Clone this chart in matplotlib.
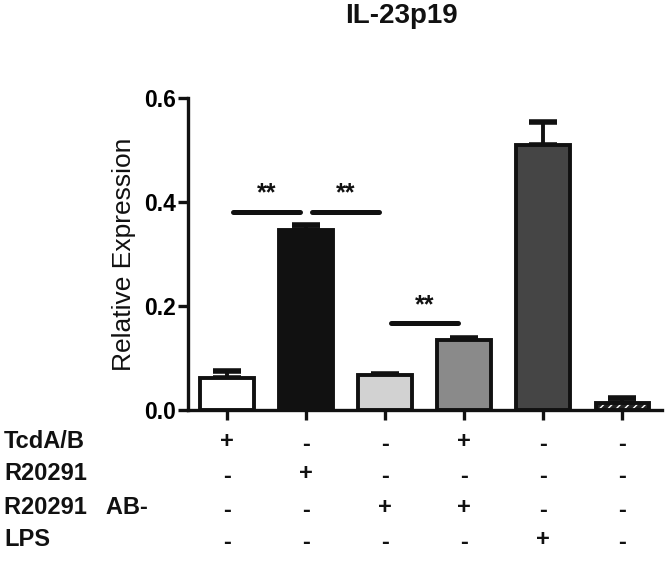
import matplotlib
matplotlib.use("Agg")
import matplotlib.pyplot as plt
import matplotlib.transforms as mtransforms

plt.rcParams['font.family'] = ['Liberation Sans', 'DejaVu Sans']

# Data
groups = ["G1", "G2", "G3", "G4", "G5", "G6"]
values = [0.062, 0.346, 0.067, 0.135, 0.510, 0.013]
errors = [0.013, 0.010, 0.003, 0.003, 0.044, 0.010]
colors = ["#ffffff", "#111111", "#d2d2d2", "#8a8a8a", "#454545", "#222222"]
row_labels = ["TcdA/B", "R20291", "R20291   AB-", "LPS"]
row_signs = [
    ["+", "-", "-", "+", "-", "-"],
    ["-", "+", "-", "-", "-", "-"],
    ["-", "-", "+", "+", "-", "-"],
    ["-", "-", "-", "-", "+", "-"],
]
yticks = [0.0, 0.2, 0.4, 0.6]
ytick_labels = ["0.0", "0.2", "0.4", "0.6"]
sig_pairs = [(0, 1, 0.381), (1, 2, 0.381), (2, 3, 0.167)]
title = "IL-23p19"
ylabel = "Relative Expression"

W, H = 666, 564
fig = plt.figure(figsize=(W / 100, H / 100), dpi=100)
ax = fig.add_axes([188 / W, 1 - 410 / H, (662 - 188) / W, (410 - 98) / H])

x = list(range(len(groups)))
lw = 2.8
alw = 2.4
bars = ax.bar(x, values, width=0.68, color=colors, edgecolor="#111111",
              linewidth=lw, zorder=3)
# hatched last bar
last = bars[-1]
last.set_hatch("////")
last.set_edgecolor("white")
last.set_linewidth(0)
ax.bar([x[-1]], [values[-1]], width=0.68, fill=False, edgecolor="#111111",
       linewidth=lw, zorder=4)

ax.errorbar(x, values, yerr=[[0] * len(x), errors], fmt="none",
            ecolor="#111111", elinewidth=lw, capsize=10, capthick=lw + 1.2,
            zorder=2)

ax.set_xlim(-0.49, 5.5)
ax.set_ylim(0, 0.6)
ax.set_yticks(yticks)
ax.set_yticklabels(ytick_labels, fontsize=16.5, fontweight="bold")
ax.set_xticks(x)
ax.set_xticklabels([])
for s in ["top", "right"]:
    ax.spines[s].set_visible(False)
for s in ["left", "bottom"]:
    ax.spines[s].set_linewidth(alw)
    ax.spines[s].set_color("#111111")
ax.tick_params(axis="both", width=alw, length=7, color="#111111", pad=2)

# significance lines
for a, b, yv in sig_pairs:
    ax.plot([a + 0.08, b - 0.08], [yv, yv], color="#111111", lw=3.6,
            solid_capstyle="round", zorder=5)
    ax.text((a + b) / 2, yv + 0.012, "**", ha="center", va="bottom",
            fontsize=18, fontweight="bold", color="#111111")

# title & ylabel
fig.text(401 / W, 1 - 16 / H, title, ha="center", va="center",
         fontsize=20, fontweight="bold", color="#111111")
fig.text(124 / W, 1 - 254 / H, ylabel, rotation=90, ha="center",
         va="center", fontsize=19, color="#111111")

# condition table
row_y = [441, 474, 507, 539]
trans = mtransforms.blended_transform_factory(ax.transData, fig.transFigure)
for lab, yy, signs in zip(row_labels, row_y, row_signs):
    fig.text(4 / W, 1 - yy / H, lab, ha="left", va="center",
             fontsize=17, fontweight="bold", color="#111111")
    for xi, sgn in zip(x, signs):
        off = 3 if sgn == "-" else 0
        ax.text(xi, 1 - (yy + off) / H, sgn, transform=trans, ha="center",
                va="center", fontsize=17, fontweight="bold",
                color="#111111", clip_on=False)

fig.savefig("out.png", dpi=100)
